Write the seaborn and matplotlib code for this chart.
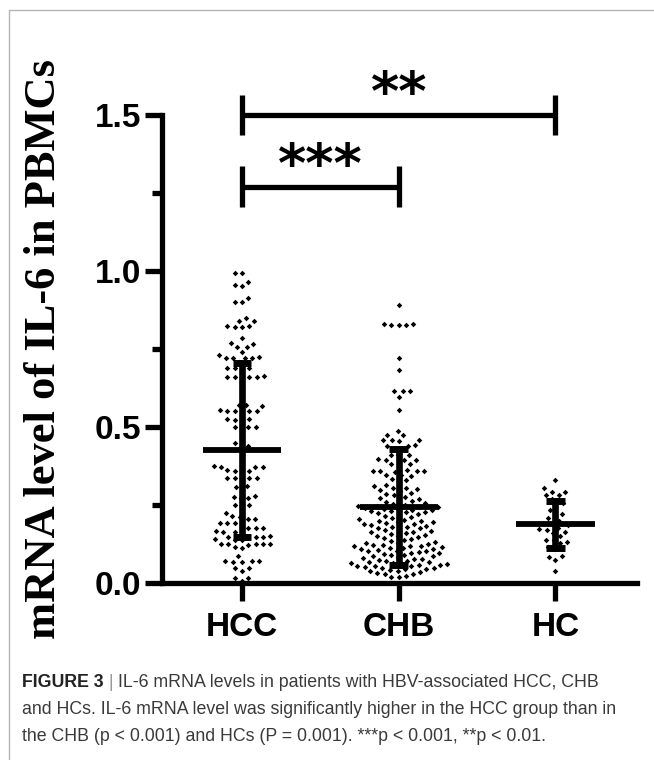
import matplotlib
matplotlib.use("Agg")
import matplotlib.pyplot as plt
from matplotlib.patches import Rectangle
from matplotlib.path import Path
import numpy as np
import pandas as pd
import seaborn as sns

groups = ["HCC", "CHB", "HC"]

hcc = [
    0.994, 0.992, 0.965, 0.955, 0.953, 0.914, 0.902, 0.900, 0.848, 0.841, 0.839,
    0.824, 0.823, 0.822, 0.821, 0.784, 0.769, 0.767, 0.758, 0.756, 0.741, 0.730,
    0.723, 0.722, 0.722, 0.721, 0.720, 0.707, 0.689, 0.688, 0.688, 0.687,
    0.662, 0.661, 0.660, 0.660, 0.659, 0.658,
    0.572, 0.570, 0.568, 0.553, 0.552, 0.552, 0.551, 0.551, 0.550,
    0.526, 0.525, 0.524, 0.524, 0.501, 0.500, 0.499, 0.490,
    0.450, 0.438, 0.436, 0.414, 0.384, 0.374, 0.373, 0.373, 0.372,
    0.361, 0.360, 0.360, 0.359, 0.337, 0.336, 0.336, 0.335, 0.335,
    0.310, 0.308, 0.295, 0.278, 0.276, 0.273, 0.271, 0.251, 0.250, 0.249,
    0.224, 0.214, 0.212, 0.206, 0.204, 0.193, 0.192, 0.192, 0.191,
    0.177, 0.176, 0.175, 0.166, 0.165, 0.165, 0.164, 0.150, 0.149, 0.149, 0.148, 0.148,
    0.140, 0.139, 0.138, 0.126, 0.125, 0.125, 0.124, 0.124, 0.123, 0.115, 0.113,
    0.087, 0.070, 0.069, 0.069, 0.068, 0.068, 0.049, 0.047, 0.040, 0.017, 0.015, 0.005,
]

chb = [
    0.890,
    0.830, 0.829, 0.828, 0.827, 0.826,
    0.722, 0.682,
    0.616, 0.615, 0.614, 0.597, 0.556, 0.487, 0.475, 0.473,
    0.459, 0.458, 0.457, 0.456, 0.441, 0.440, 0.439, 0.431, 0.429,
    0.411, 0.410, 0.409, 0.396, 0.395, 0.394, 0.393, 0.381, 0.380, 0.379,
    0.361, 0.360, 0.360, 0.359, 0.358, 0.357, 0.346, 0.345, 0.344,
    0.334, 0.329, 0.325, 0.315, 0.310, 0.306, 0.303, 0.300, 0.297, 0.294,
    0.289, 0.285, 0.281, 0.276, 0.272, 0.268, 0.265, 0.262, 0.259, 0.256,
    0.253, 0.250, 0.247, 0.244, 0.246, 0.243, 0.241, 0.239, 0.237, 0.235, 0.233, 0.230,
    0.231, 0.228, 0.226, 0.223, 0.220, 0.218,
    0.214, 0.211, 0.208, 0.205, 0.203, 0.200, 0.198, 0.196,
    0.194, 0.192, 0.190, 0.188, 0.186, 0.184, 0.181, 0.179, 0.177, 0.175,
    0.172, 0.169, 0.166, 0.164, 0.162, 0.159, 0.157, 0.155, 0.152, 0.150, 0.147, 0.145,
    0.142, 0.138, 0.134, 0.131,
    0.129, 0.127, 0.125, 0.123, 0.121, 0.120, 0.119, 0.117, 0.115, 0.113, 0.111, 0.109,
    0.108, 0.106, 0.104, 0.103, 0.101, 0.099, 0.097, 0.095,
    0.093, 0.091, 0.089, 0.087, 0.085,
    0.082, 0.080, 0.078, 0.076, 0.074, 0.072, 0.070, 0.068,
    0.066, 0.064, 0.063, 0.061, 0.060, 0.059, 0.058, 0.056, 0.055, 0.053, 0.051,
    0.049, 0.047, 0.045, 0.044, 0.042, 0.040, 0.038,
    0.035, 0.032, 0.030, 0.028, 0.022, 0.020, 0.018,
]

hc = [
    0.330, 0.303, 0.293, 0.292, 0.282, 0.281, 0.270, 0.255, 0.250, 0.234,
    0.220, 0.218, 0.207, 0.200, 0.190, 0.185, 0.176, 0.174, 0.170, 0.165,
    0.160, 0.150, 0.138, 0.137, 0.130, 0.127, 0.115, 0.110, 0.085, 0.083,
    0.074, 0.038,
]

# significance brackets: (from, to, height, label)
brackets = [("HCC", "HC", 1.5, "**"), ("HCC", "CHB", 1.27, "***")]

yticks = [0.0, 0.5, 1.0, 1.5]
ytick_labels = ["0.0", "0.5", "1.0", "1.5"]
minor_yticks = [0.25, 0.75, 1.25]

ylabel = "mRNA level of IL-6 in PBMCs"
caption = [
    ("FIGURE 3", " | ", "IL-6 mRNA levels in patients with HBV-associated HCC, CHB"),
    ("", "", "and HCs. IL-6 mRNA level was significantly higher in the HCC group than in"),
    ("", "", "the CHB (p < 0.001) and HCs (P = 0.001). ***p < 0.001, **p < 0.01."),
]

df = pd.DataFrame({
    "group": ["HCC"] * len(hcc) + ["CHB"] * len(chb) + ["HC"] * len(hc),
    "value": hcc + chb + hc,
})

sns.set_theme(style="white")
plt.rcParams["font.family"] = ["Liberation Sans", "DejaVu Sans"]
for k in ["text.color", "axes.labelcolor", "xtick.color", "ytick.color"]:
    plt.rcParams[k] = "black"

W, H = 654, 760
fig = plt.figure(figsize=(W / 100, H / 100), dpi=100)
ax = fig.add_axes([162 / W, 1 - 583 / H, (637 - 162) / W, (583 - 115) / H])

# diamond a bit smaller than its footprint, so the swarm leaves gaps like Prism
dot = Path([(0, 0.8), (0.8, 0), (0, -0.8), (-0.8, 0), (0, 0.8), (1, 1), (-1, -1)],
           [Path.MOVETO, Path.LINETO, Path.LINETO, Path.LINETO, Path.CLOSEPOLY,
            Path.MOVETO, Path.MOVETO])

sns.swarmplot(data=df, x="group", y="value", order=groups, color="black",
              marker=dot, size=5.0, linewidth=0, ax=ax, zorder=2)

lw = 4.2
stats = df.groupby("group")["value"].agg(["mean", "std"])
for i, g in enumerate(groups):
    m, s = stats.loc[g, "mean"], stats.loc[g, "std"]
    ax.hlines(m, i - 0.25, i + 0.25, color="black", lw=lw, zorder=3)
    ax.vlines(i, m - s, m + s, color="black", lw=lw + 0.6, zorder=3)
    ax.hlines([m - s, m + s], i - 0.06, i + 0.06, color="black", lw=lw + 0.8, zorder=3)

for a, b, h, lab in brackets:
    x0, x1 = groups.index(a), groups.index(b)
    ax.plot([x0, x1], [h, h], color="black", lw=3.8, clip_on=False, solid_capstyle="butt")
    ax.vlines([x0, x1], h - 0.065, h + 0.065, color="black", lw=3.8, clip_on=False)
    ax.text((x0 + x1) / 2, h + 0.015, lab, ha="center", va="baseline",
            fontsize=39, fontweight="bold", family="DejaVu Sans", clip_on=False)

ax.set_xlim(-0.51, 2.52)
ax.set_ylim(0, 1.5)
ax.set_yticks(yticks)
ax.set_yticklabels(ytick_labels)
ax.set_yticks(minor_yticks, minor=True)
ax.set_xlabel("")
ax.set_ylabel(ylabel, fontsize=32, fontweight="bold",
              family=["Liberation Serif", "DejaVu Serif"])
ax.yaxis.label.set_va("center")
ax.yaxis.set_label_coords(-0.248, 0.5)

for side in ["top", "right"]:
    ax.spines[side].set_visible(False)
for side in ["left", "bottom"]:
    ax.spines[side].set_linewidth(3.8)
    ax.spines[side].set_color("black")
ax.spines["left"].set_bounds(0, 1.5)

ax.tick_params(axis="y", which="major", direction="out", length=12, width=3.8,
               labelsize=24, pad=3, left=True)
ax.tick_params(axis="y", which="minor", direction="out", length=7, width=3.8, left=True)
ax.tick_params(axis="x", direction="out", length=13, width=3.8, labelsize=24,
               pad=8, bottom=True)
for t in ax.get_xticklabels() + ax.get_yticklabels():
    t.set_fontweight("bold")

# light frame of the figure panel
fig.add_artist(Rectangle((9 / W, -0.5), 2, 1.5 - 10 / H, transform=fig.transFigure,
                         fill=False, edgecolor="#b4b4b4", lw=1.0))

# caption
renderer = fig.canvas.get_renderer()
baselines = [687, 714, 741]
for (bold, sep, rest), yb in zip(caption, baselines):
    x = 22 / W
    y = 1 - yb / H
    for txt, kw in [(bold, dict(fontweight="bold", color="#222222")),
                    (sep, dict(color="#999999")),
                    (rest, dict(color="#3a3a3a"))]:
        if not txt:
            continue
        t = fig.text(x, y, txt, fontsize=12.8, va="baseline", ha="left", **kw)
        bb = t.get_window_extent(renderer)
        x += bb.width / W

fig.savefig("out.png", dpi=100)
